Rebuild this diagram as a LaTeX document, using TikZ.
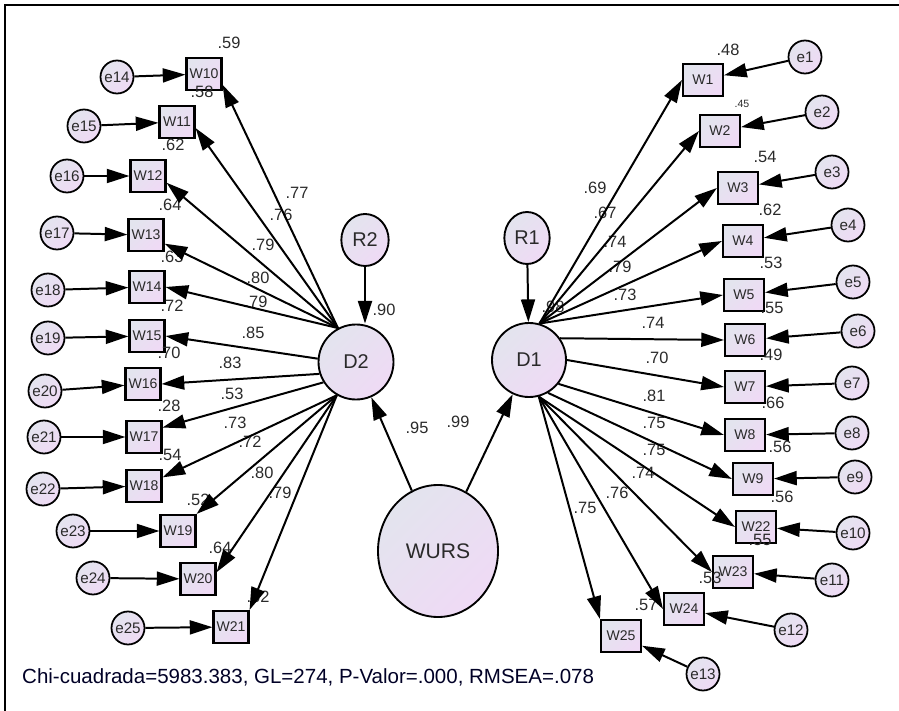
\documentclass[tikz,border=0pt]{standalone}
\usepackage{fontspec}
\setmainfont{Liberation Sans}
\usetikzlibrary{arrows.meta,shapes.geometric}
\definecolor{lavtop}{HTML}{E3E4EE}
\definecolor{lavbot}{HTML}{EFDAF5}
\definecolor{txt}{HTML}{2A2A2A}
\tikzset{
  lavfill/.style={top color=lavtop, bottom color=lavbot, shading angle=45},
  obs/.style={rectangle, draw, line width=1.8pt, lavfill, minimum width=#1,
    minimum height=0.96cm, inner sep=0pt, text=txt, font=\fontsize{12}{14}\selectfont},
  obs/.default=1.05cm,
  err/.style={circle, draw, line width=1.5pt, lavfill, minimum size=0.99cm,
    inner sep=0pt, text=txt, font=\fontsize{13}{15}\selectfont},
  lat/.style={circle, draw, line width=1.6pt, lavfill, minimum size=#1,
    inner sep=0pt, text=txt, font=\fontsize{17}{20}\selectfont},
  lbl/.style={inner sep=0pt, text=txt, font=\fontsize{14}{16}\selectfont},
  arr/.style={-{Triangle[length=0.68cm,width=0.42cm]}, line width=1.7pt}
}

\begin{document}
\begin{tikzpicture}[x=0.03cm, y=-0.03cm]
\useasboundingbox (0,0) rectangle (899,711);
\draw[line width=1.2pt] (5,711) -- (5,5) -- (899,5);
% latent variables
\node[lat=2.25cm] (D2) at (356,362) {D2};
\node[lat=2.22cm] (D1) at (529,360) {D1};
\node[lat, ellipse, minimum width=1.42cm, minimum height=1.56cm] (R2) at (365,240) {R2};
\node[lat, ellipse, minimum width=1.36cm, minimum height=1.56cm] (R1) at (527,238) {R1};
\node[lat, ellipse, minimum width=3.6cm, minimum height=3.96cm,
  font=\fontsize{18}{21}\selectfont] (WURS) at (438,551) {WURS};
% left indicators and their errors
\foreach \w/\e/\wx/\wy/\ex/\ey in {10/14/204/74/117/77, 11/15/177/122/84/126,
  12/16/148/176/67/176, 13/17/146/235/57/233, 14/18/147/287/48/290,
  15/19/147/336/48/338, 16/20/143/384/45/391, 17/21/144/437/44/437,
  18/22/144/486/43/489, 19/23/178/531/73/531, 20/24/198/579/93/578,
  21/25/231/627/128/628} {
  \node[obs] (W\w) at (\wx,\wy) {W\w};
  \node[err] (e\e) at (\ex,\ey) {e\e};
  \draw[arr] (e\e) -- (W\w);
}
% right indicators and their errors
\foreach \w/\e/\wx/\wy/\ex/\ey in {1/1/703/80/805/57, 2/2/720/131/822/112,
  3/3/738/188/832/172, 4/4/743/241/848/225, 5/5/744/295/853/282,
  6/6/745/340/858/331, 7/7/745/387/852/383, 8/8/745/435/852/433,
  9/9/753/479/855/477, 22/10/756/527/853/533, 23/11/733/572/832/580,
  24/12/684/609/791/630, 25/13/621/636/703/674} {
  \node[obs=1.2cm] (W\w) at (\wx,\wy) {W\w};
  \node[err] (e\e) at (\ex,\ey) {e\e};
  \draw[arr] (e\e) -- (W\w);
}
% squared multiple correlations
\foreach \v/\x/\y [count=\i] in {.59/229/43, .58/202/92, .62/173/145, .64/170/205,
  .63/172/257, .72/172/306, .70/169/353, .28/169/406, .54/170/455, .52/198/500,
  .64/220/548, .62/258/597, .48/728/50, .54/765/157, .62/770/210, .53/771/263,
  .55/772/308, .49/771/355, .66/773/403, .56/780/447, .56/782/497, .55/760/540,
  .53/710/578, .57/646/605, .90/384/310, .98/553/307}
  \node[lbl] (sq\i) at (\x,\y) {\v};
\node[lbl, font=\fontsize{9}{10}\selectfont] (sqW2) at (742,104) {.45};
% regression weights
\foreach \v/\x/\y [count=\i] in {.77/297/193, .76/281/215, .79/263/245, .80/258/278,
  .79/256/302, .85/253/333, .83/230/363, .53/232/394, .73/235/423, .72/250/442,
  .80/262/473, .79/280/493, .69/595/188, .67/605/213, .74/615/242, .79/620/267,
  .73/625/295, .74/653/323, .70/657/358, .81/654/396, .75/654/423, .75/654/450,
  .74/643/473, .76/617/493, .75/585/508, .95/417/428, .99/458/422}
  \node[lbl] (rw\i) at (\x,\y) {\v};
% loadings
\foreach \w/\a/\t in {10/118/-30, 11/118/-18, 12/118/-20, 13/118/-25, 14/118/east,
  15/175/east, 16/198/east, 17/212/27, 18/240/25, 19/240/north east,
  20/240/20, 21/240/north east}
  \draw[arr] (D2.\a) -- (W\w.\t);
\foreach \w/\a/\t in {1/74/west, 2/74/west, 3/74/west, 4/74/west, 5/74/west,
  6/35/west, 7/0/west, 8/-39/west, 9/-60/west, 22/-75/west, 23/-75/west,
  24/-75/west, 25/-75/north west}
  \draw[arr] (D1.\a) -- (W\w.\t);
% second order factor and residuals
\draw[arr] (WURS) -- (D2);
\draw[arr] (WURS) -- (D1);
\draw[arr] (R2) -- (R2 |- D2.north);
\draw[arr] (R1) -- (D1);
% fit
\node[lbl, anchor=west, font=\fontsize{17.5}{20}\selectfont, text=black!85!blue] (fit) at (22,677)
  {Chi-cuadrada=5983.383, GL=274, P-Valor=.000, RMSEA=.078};
\end{tikzpicture}
\end{document}
